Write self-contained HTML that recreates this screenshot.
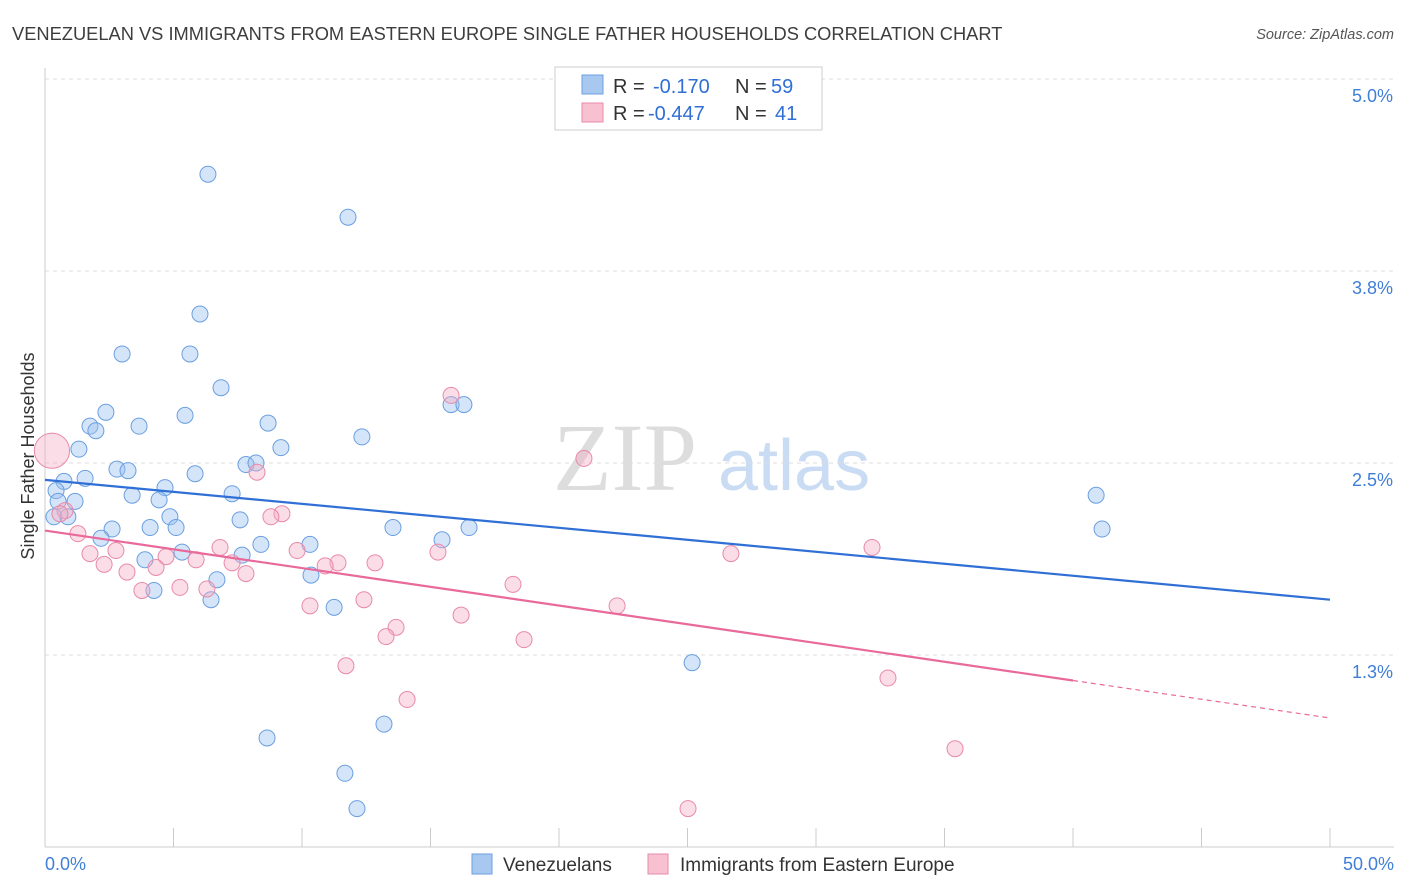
<!DOCTYPE html>
<html><head><meta charset="utf-8"><style>
body{margin:0;background:#fff;font-family:"Liberation Sans",sans-serif;}
#wrap{position:relative;width:1406px;height:892px;overflow:hidden;}
</style></head><body>
<div id="wrap">
<svg id="svg" width="1406" height="892" xmlns="http://www.w3.org/2000/svg">
<text x="12" y="40" font-size="18.3" fill="#3d3d3d">VENEZUELAN VS IMMIGRANTS FROM EASTERN EUROPE SINGLE FATHER HOUSEHOLDS CORRELATION CHART</text>
<text x="1394" y="39" font-size="14.5" fill="#555" font-style="italic" text-anchor="end">Source: ZipAtlas.com</text>
<g>
<text x="553" y="490" font-size="96" fill="#ddd" font-family="Liberation Serif">ZIP</text>
<text x="718" y="490" font-size="72" fill="#c9dcf3">atlas</text>
</g>
<g id="grid"></g>
<g id="axes"></g>
<g id="pts"></g>
<g id="trends"></g>
<text transform="translate(34,456) rotate(-90)" font-size="18" fill="#333" text-anchor="middle">Single Father Households</text>
<g>
<rect x="555" y="67" width="267" height="63" fill="#fff" stroke="#ccc"/>
<rect x="582" y="75" width="21" height="19" fill="#a9c8f0" stroke="#6a9fe0"/>
<rect x="582" y="103" width="21" height="19" fill="#f7c1d2" stroke="#e88aa8"/>
<text x="613" y="93" font-size="20" fill="#333">R = <tspan x="653" fill="#2f6fd6">-0.170</tspan></text>
<text x="735" y="93" font-size="20" fill="#333">N = <tspan x="771" fill="#2f6fd6">59</tspan></text>
<text x="613" y="120" font-size="20" fill="#333">R = <tspan x="648" fill="#2f6fd6">-0.447</tspan></text>
<text x="735" y="120" font-size="20" fill="#333">N = <tspan x="775" fill="#2f6fd6">41</tspan></text>
</g>
<g>
<rect x="472" y="854" width="20" height="20" fill="#a9c8f0" stroke="#6a9fe0"/>
<text x="503" y="871" font-size="19" fill="#333">Venezuelans</text>
<rect x="648" y="854" width="20" height="20" fill="#f7c1d2" stroke="#e88aa8"/>
<text x="680" y="871" font-size="19" fill="#333">Immigrants from Eastern Europe</text>
</g>
</svg>
</div>
<script>
const yTicks=[1.25,2.5,3.75,5.0];
const yTickLabels=["1.3%","2.5%","3.8%","5.0%"];
const xTickLabels=["0.0%","50.0%"];
const blueX=[6.34,11.79,6.03,3.00,5.64,6.85,2.37,5.45,1.75,1.98,3.66,15.80,16.30,8.68,12.33,9.18,1.32,2.80,3.23,7.82,8.21,5.84,1.56,0.74,4.67,0.43,3.39,7.28,4.44,0.51,1.17,0.35,0.89,4.86,7.59,2.61,4.09,5.10,13.54,16.50,2.18,15.45,8.40,10.31,5.33,7.67,3.89,10.35,6.69,4.24,6.46,11.25,25.18,13.19,8.64,11.67,12.14,40.90,41.13];
const blueY=[4.38,4.10,3.47,3.21,3.21,2.99,2.83,2.81,2.74,2.71,2.74,2.88,2.88,2.76,2.67,2.60,2.59,2.46,2.45,2.49,2.50,2.43,2.40,2.38,2.34,2.32,2.29,2.30,2.26,2.25,2.25,2.15,2.15,2.15,2.13,2.07,2.08,2.08,2.08,2.08,2.01,2.00,1.97,1.97,1.92,1.90,1.87,1.77,1.74,1.67,1.61,1.56,1.20,0.80,0.71,0.48,0.25,2.29,2.07];
const pinkX=[0.27,15.80,20.97,8.25,0.78,0.58,9.22,8.79,1.28,6.81,9.81,15.29,26.69,32.18,1.75,2.76,5.88,4.71,2.30,7.28,11.40,10.90,12.84,3.19,4.32,7.82,18.21,3.77,5.25,6.30,12.41,10.31,22.26,16.19,13.66,13.27,18.64,11.71,32.80,14.09,35.41,25.02];
const pinkY=[2.58,2.94,2.53,2.44,2.19,2.17,2.17,2.15,2.04,1.95,1.93,1.92,1.91,1.95,1.91,1.93,1.87,1.89,1.84,1.85,1.85,1.83,1.85,1.79,1.82,1.78,1.71,1.67,1.69,1.68,1.61,1.57,1.57,1.51,1.43,1.37,1.35,1.18,1.10,0.96,0.64,0.25];
const pinkSize=[2.2];
const blueTrend=[2.39,1.61];
const pinkTrend=[2.06,0.84];
const pinkSolidEnd=[40];

const NS="http://www.w3.org/2000/svg";
const X0=45,X1=1330,Y0=847,YS=153.6;
function sx(v){return X0+(X1-X0)*v/50;}
function sy(v){return Y0-v*YS;}
function mk(tag,attrs,parent){const e=document.createElementNS(NS,tag);for(const k in attrs)e.setAttribute(k,attrs[k]);parent.appendChild(e);return e;}
const grid=document.getElementById('grid'),axes=document.getElementById('axes'),pts=document.getElementById('pts'),tr=document.getElementById('trends');
yTicks.forEach((t,i)=>{
 const l=mk('line',{x1:X0,x2:1394,y1:sy(t),y2:sy(t),stroke:'#ddd','stroke-dasharray':'4,4'},grid);
 
 
 const tx=mk('text',{x:1393,y:sy(t)+23,'font-size':18,fill:'#3f7fd8','text-anchor':'end'},axes);
 tx.textContent=yTickLabels[i];
 
 
});
const ya=mk('line',{x1:X0,x2:X0,y1:68,y2:Y0,stroke:'#ccc'},axes);


const xa=mk('line',{x1:X0,x2:1394,y1:Y0,y2:Y0,stroke:'#ccc'},axes);


for(let i=0;i<=10;i++){
 const t=mk('line',{x1:sx(i*5),x2:sx(i*5),y1:Y0,y2:828,stroke:'#ccc'},axes);
 
 
}
[[0,'start',45],[50,'end',1394]].forEach((d,i)=>{
 const tx=mk('text',{x:d[2],y:870,'font-size':18,fill:'#3f7fd8','text-anchor':d[1]},axes);
 tx.textContent=xTickLabels[i];
 
 
});
blueX.forEach((x,i)=>{
 const c=mk('circle',{cx:sx(x),cy:sy(blueY[i]),r:8,fill:'rgba(150,190,240,0.4)',stroke:'#6a9fe0','stroke-width':1},pts);
 
 
});
pinkX.forEach((x,i)=>{
 const r=8*(i<pinkSize.length?pinkSize[i]:1);
 const c=mk('circle',{cx:sx(x),cy:sy(pinkY[i]),r:r,fill:'rgba(245,170,195,0.4)',stroke:'#e88aa8','stroke-width':1},pts);
 
 
});
const bl=mk('line',{x1:sx(0),y1:sy(blueTrend[0]),x2:sx(50),y2:sy(blueTrend[1]),stroke:'#2f6fd6','stroke-width':2.2},tr);


const pe=pinkTrend[0]+(pinkTrend[1]-pinkTrend[0])*pinkSolidEnd[0]/50;
const pl=mk('line',{x1:sx(0),y1:sy(pinkTrend[0]),x2:sx(pinkSolidEnd[0]),y2:sy(pe),stroke:'#e8699a','stroke-width':2.2},tr);


const pd=mk('line',{x1:sx(pinkSolidEnd[0]),y1:sy(pe),x2:sx(50),y2:sy(pinkTrend[1]),stroke:'#e8699a','stroke-width':1.2,'stroke-dasharray':'5,4'},tr);


</script>
</body></html>
